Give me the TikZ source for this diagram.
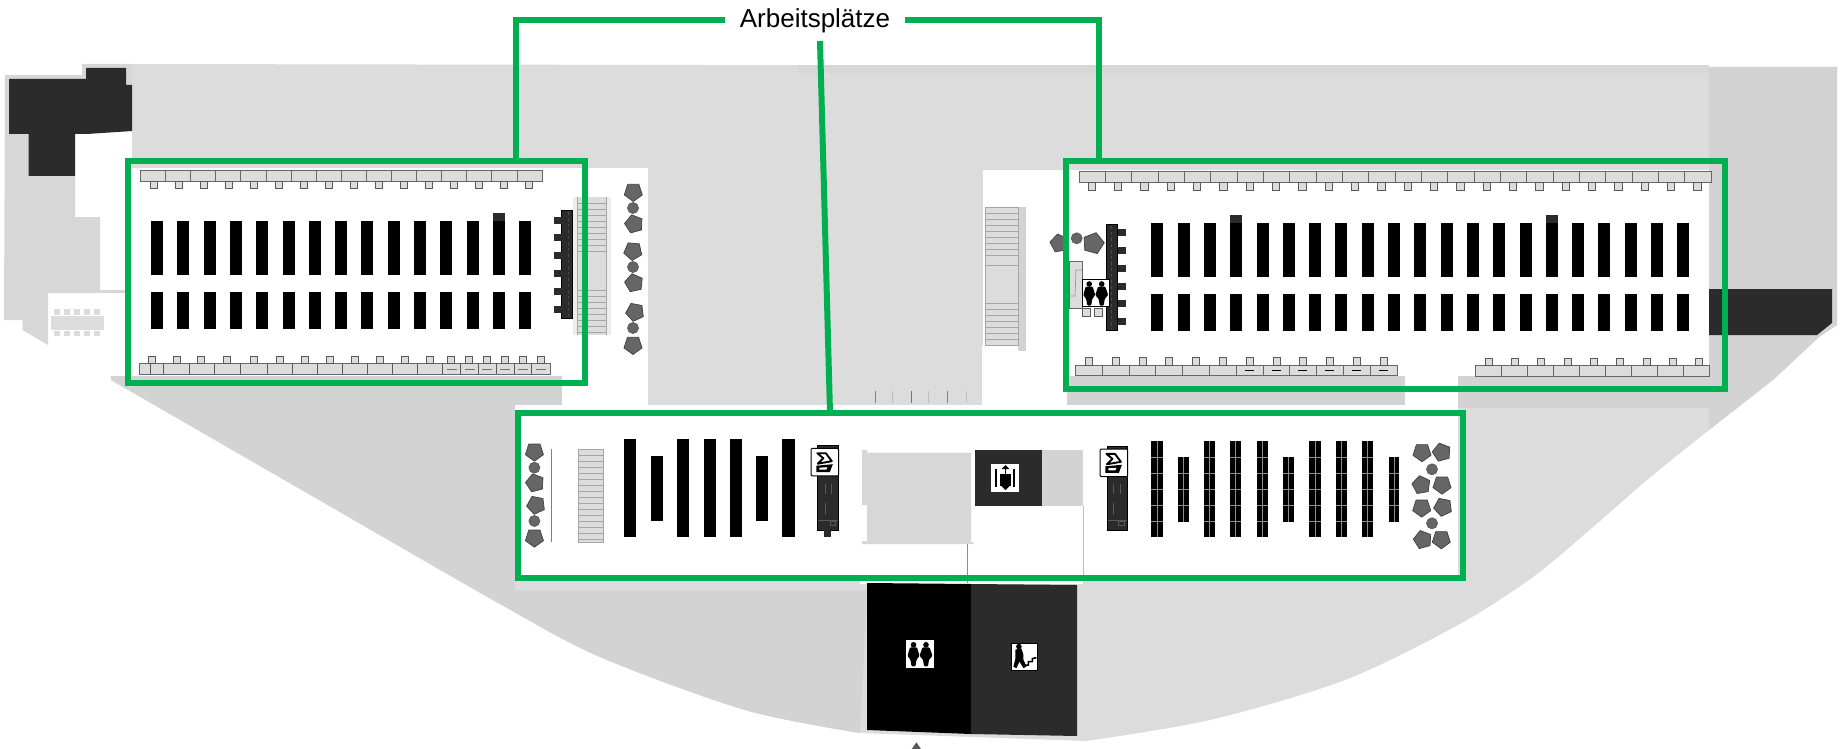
\documentclass[tikz,border=0pt]{standalone}
\usepackage{fontspec}
\setmainfont{Liberation Sans}
\usetikzlibrary{shapes.geometric}
\definecolor{zonegreen}{HTML}{00B050}
\definecolor{floorlight}{HTML}{DCDCDC}
\definecolor{floordark}{HTML}{D3D3D3}
\definecolor{roomdark}{HTML}{2B2B2B}
\definecolor{plantgray}{HTML}{666666}
\tikzset{
    persons/.pic={
        \foreach \d/\s in {-6.5/0,6/.5}{
            \fill[black] (\d,-9) circle (2.8);
            \fill[black, rounded corners=1pt] (\d-3.5,-6.5) -- (\d+3.5,-6.5) -- (\d+6+\s,2) -- (\d+3,6) -- (\d+2,12.5) -- (\d-2,12.5) -- (\d-3,6) -- (\d-6-\s,2) -- cycle;
        }
    },
    scanner/.pic={
        \draw[black, line width=1.9pt, line join=round] (-7.5,-9) -- (1,-9) -- (7,-1) -- (-7,1.5) -- (-1.5,-4) -- cycle;
        \fill[black] (-8.5,3.5) -- (8,2) -- (5,10) -- (-8.5,10) -- cycle;
        \fill[white] (-5.5,5.5) -- (2.5,5) -- (1.5,7.5) -- (-5.5,7.5) -- cycle;
    },
    lift/.pic={
        \draw[black, line width=2pt] (-9,-9) -- (-9,9) (9,-9) -- (9,9);
        \fill[black] (-5,-4) rectangle (6,8);
        \fill[black] (0,-12.5) -- (4,-8.5) -- (-4,-8.5) -- cycle (0,12.5) -- (4,8.5) -- (-4,8.5) -- cycle;
        \draw[black, line width=1.2pt] (0,-9) -- (0,-4) (0,8) -- (0,9);
    },
    exitman/.pic={
        \fill[black] (-5.5,-10) circle (2.8);
        \fill[black] (-9,-7) -- (-3,-8) -- (-1,-2) -- (-1,3) -- (2,10) -- (-1,11.5) -- (-5,5) -- (-8,11.5) -- (-11,10) -- (-9,2) -- cycle;
        \draw[black, line width=1.6pt] (-1,8.5) -- (4,8.5) -- (4,5) -- (8,5) -- (8,2) -- (12,1);
    },
}
\begin{document}
\begin{tikzpicture}[x=1pt, y=-1pt,
        zone/.style={draw=zonegreen, line width=6pt, inner sep=0pt, outer sep=0pt},
        link/.style={draw=zonegreen, line width=6pt},
        desk/.style={fill=floorlight, draw=black!60, line width=.7pt},
        chair/.style={fill=floorlight, draw=black!65, line width=.8pt},
        bigbar/.style={fill=black},
        shelf/.style={fill=roomdark, draw=black, line width=.5pt},
        plant/.style={regular polygon, regular polygon sides=5, fill=plantgray, draw=black!75, line width=.7pt, line join=round, minimum size=19pt, inner sep=0pt},
        pot/.style={circle, fill=plantgray, draw=black!65, line width=.7pt, minimum size=11pt, inner sep=0pt},
        sign/.style={rectangle, fill=white, draw=black, line width=1pt, inner sep=0pt},
        stripe/.style={draw=black!35, line width=.7pt},
    ]
    \useasboundingbox (0,0) rectangle (1845,749);

    % floor
    \fill[floorlight] (132,64) -- (1837,67) -- (1837,325) -- (1819,337) -- plot[smooth] coordinates {(1773,380) (1709,430) (1647,480) (1593,527) (1533,577) (1458,625) (1345,680) (1210,720) (1086,741)} -- (860,733) -- plot[smooth] coordinates {(860,733) (745,710) (600,657) (500,604) (300,489) (111,380)} -- (132,376) -- cycle;
    \fill[floordark!60!floorlight] (132,64) -- (82,64) -- (82,75) -- (5,75) -- (4,320) -- (22.5,320) -- (22.5,330) -- (48,345) -- (48,293) -- (125,293) -- (125,290) -- (100,290) -- (100,217) -- (75,217) -- (75,134) -- (132,131) -- cycle;
    \fill[floordark] (111,376) -- (562,376) -- (562,407) -- (515,407) -- (515,590) -- (867,590) -- (860,733) -- plot[smooth] coordinates {(860,733) (745,710) (600,657) (500,604) (300,489) (111,380)} -- cycle;
    \fill[floordark] (1709,67) -- (1837,67) -- (1837,325) -- (1819,337) -- (1773,380) -- (1709,430) -- cycle;
    \fill[floordark!60!floorlight] (798,65) rectangle (1709,73);
    \fill[floordark] (1067,376) rectangle (1405,408);
    \fill[floordark] (1458,376) rectangle (1709,408);

    % white rooms
    \fill[white] (132,168) rectangle (648,376);
    \fill[white] (562,168) rectangle (648,410);
    \fill[white] (515,405) rectangle (1458,581);
    \fill[white] (860,581) rectangle (1083,584);
    \fill[white] (648,405) rectangle (982,410);
    \fill[white] (983,170) rectangle (1709,376);
    \fill[white] (982,346) rectangle (1067,410);
    \fill[white] (1405,376) rectangle (1458,410);

    % dark rooms
    \fill[roomdark] (9,79) -- (86,79) -- (86,68) -- (126,68) -- (126,85) -- (132,85) -- (132,131) -- (87,134) -- (75,134) -- (75,176) -- (28.5,176) -- (28.5,134) -- (9,134) -- cycle;
    \fill[roomdark] (1709,289) -- (1832,289) -- (1832,323) -- (1817,335) -- (1709,335) -- cycle;
    \fill[black] (867,583) -- (971,584) -- (971,734) -- (867,730) -- cycle;
    \fill[roomdark] (971,584) -- (1077,585) -- (1077,736) -- (971,734) -- cycle;
    \fill[roomdark] (975,450) rectangle (1042,506);
    \fill[floordark] (1042,450) rectangle (1083,506);
    \fill[floordark!60!floorlight] (862,450) -- (867,450) -- (867,452.5) -- (971,452.5) -- (971,542) -- (973.5,542) -- (973.5,544) -- (862,544) -- (862,541) -- (867,541) -- (867,505) -- (862,505) -- cycle;
    \draw[black!45, line width=.7pt] (967,544) -- (967,583);
    \draw[black!25, line width=.7pt] (1083,506) -- (1083,581);

    % small table left
    \fill[floorlight] (51,316) rectangle (104,330);
    \foreach \x in {57,67,77,87,97} {
        \fill[floorlight] (\x-3,309) rectangle (\x+3,315);
        \fill[floorlight] (\x-3,331) rectangle (\x+3,336);
    }

    % stairs
    \fill[black!7] (573,197) rectangle (611,335);
    \fill[floorlight] (577,197) rectangle (606.5,335);
    \foreach \y in {203,209,...,254,290,296,...,334} \draw[stripe] (577,\y) -- (606.5,\y);
    \draw[stripe] (577,197) -- (577,335) (606.5,197) -- (606.5,335);
    \fill[floordark] (1018,207) rectangle (1026,351);
    \fill[floorlight] (985,207) rectangle (1018.5,345);
    \foreach \y in {207,213,...,260,303,309,...,345} \draw[stripe] (985,\y) -- (1018.5,\y);
    \draw[stripe] (985,265) rectangle (1018.5,303);
    \draw[stripe] (985,207) -- (985,345) (1018.5,207) -- (1018.5,345);
    \fill[floorlight] (578.5,449.5) rectangle (603.5,542.5);
    \foreach \y in {455,461,...,540} \draw[stripe] (578.5,\y) -- (603.5,\y);
    \draw[stripe] (578.5,449.5) rectangle (603.5,542.5);
    \draw[black!50, line width=.8pt] (551,449) -- (551,542);
    \foreach \x/\c in {875/50,892/25,911/55,928/25,947/50,966/25} \draw[black!\c, line width=.8pt] (\x,391) -- (\x,403);

    % left block
    \foreach \i in {0,...,15} {
        \draw[desk] (140.4+25.1*\i,170) rectangle ++(25.1,11.7);
        \draw[chair] (150+25*\i,181.7) rectangle ++(7,6.3);
    }
    \foreach \i in {0,...,14} {
        \fill[bigbar] (151+26.3*\i,220.7) rectangle ++(12,54.3);
        \fill[bigbar] (151+26.3*\i,291.7) rectangle ++(12,37);
    }
    \fill[roomdark] (493,213) rectangle ++(12,8);
    \fill[floorlight] (139.6,363.3) rectangle (550.8,374.3);
    \draw[black!60, line width=.7pt] (139.6,363.3) rectangle (550.8,374.3);
    \foreach \z in {380,414,480,541,607,677,740,803,866,930,993,1056,1120,1165,1210,1255,1300,1345} \draw[black!65, line width=.8pt] (\z/2.529,363.3) -- (\z/2.529,374.3);
    \foreach \z in {383,447,509,575,642,708,771,835,897,961,1023,1087,1141,1186,1232,1278,1323,1368} \draw[chair] (\z/2.529-3.5,356) rectangle ++(7,7.3);
    \foreach \z in {1142,1188,1232,1278,1323,1368} \draw[black!55, line width=1pt] (\z/2.529-5,369) -- ++(10,0);
    \draw[shelf] (561.5,210) rectangle (572,318);
    \draw[black!70, dashed, line width=.7pt] (568,212) -- (568,316);
    \foreach \y in {220,237.3,255.7,273.3,291.7,309} \fill[roomdark] (554,\y-3.5) rectangle (561.5,\y+3.5);

    % plants next to the left block
    \foreach \x/\y/\r [count=\n] in {633.3/192/180,634/224/15,633/251/175,634/283/12,635/312/25,633/345/180} \node[plant, rotate=\r] (leftplant\n) at (\x,\y) {};
    \foreach \y [count=\n] in {208,267,328} \node[pot] (leftpot\n) at (633,\y) {};

    % right block
    \foreach \i in {0,...,23} {
        \draw[desk] (1079+26.33*\i,171.7) rectangle ++(26.33,11);
        \draw[chair] (1088+26.33*\i,182.7) rectangle ++(7.5,7.5);
    }
    \foreach \i in {0,...,20} {
        \fill[bigbar] (1151.3+26.3*\i,222.7) rectangle ++(12,54.6);
        \fill[bigbar] (1151.3+26.3*\i,294) rectangle ++(12,36.7);
    }
    \fill[roomdark] (1230.2,215) rectangle ++(12,8);
    \fill[roomdark] (1545.8,215) rectangle ++(12,8);
    \foreach \i in {0,...,11} {
        \draw[desk] (1075.4+26.8*\i,365) rectangle ++(26.8,10.7);
        \draw[chair] (1085.4+26.8*\i,357.3) rectangle ++(7,7.7);
    }
    \foreach \i in {6,...,11} \draw[black, line width=1pt] (1084+26.8*\i,370.5) -- ++(9,0);
    \foreach \i in {0,...,8} {
        \draw[desk] (1475.8+25.9*\i,365.7) rectangle ++(25.9,11);
        \draw[chair] (1485.2+26.3*\i,358) rectangle ++(7,7.7);
    }
    \draw[shelf] (1106.7,224) rectangle (1117.7,330.7);
    \draw[black!70, dashed, line width=.7pt] (1111,226) -- (1111,329);
    \foreach \y in {232.7,250.3,268,286,303.7,321.7} \fill[roomdark] (1117.7,\y-3.5) rectangle (1125.7,\y+3.5);
    \draw[desk] (1069,261.7) rectangle (1082,308);
    \draw[black!40, line width=.7pt] (1069,296) -- (1075,296) -- (1076,270) -- (1082,270);
    \draw[chair] (1082.3,308) rectangle (1090,316.7);
    \draw[chair] (1094.3,308) rectangle (1102.3,316.7);
    \node[plant, rotate=10] (doorplant1) at (1059.3,243.3) {};
    \node[pot] (doorpot) at (1076.7,238.3) {};
    \node[plant, rotate=-15, minimum size=22pt] (doorplant2) at (1093.3,243.3) {};
    \node[sign, minimum width=27pt, minimum height=27pt] (wcupper) at (1095.7,293) {};
    \pic at (wcupper) {persons};

    % bottom block, left half
    \foreach \a/\b in {624.4/635.9,677/689,704/715.5,729.6/741.9,782.4/794.7} \fill[bigbar] (\a,439) rectangle (\b,536.7);
    \foreach \a/\b in {651/663,755.6/767.9} \fill[bigbar] (\a,455.7) rectangle (\b,520.7);
    \foreach \x/\y/\r [count=\n] in {534.4/451.7/180,535/483/15,536/505/25,534.4/537.7/180} \node[plant, rotate=\r] (lowplant\n) at (\x,\y) {};
    \foreach \y [count=\n] in {467.7,521} \node[pot] (lowpot\n) at (534.4,\y) {};
    \draw[shelf] (817.6,445) rectangle (838.3,530);
    \fill[roomdark] (824,530) rectangle (831,536.7);
    \draw[black!65, line width=.7pt] (825,484) -- (825,494) (831,484) -- (831,494) (825,503) -- (825,515) (818,520) -- (838,520) (830,521) rectangle (835,525);
    \node[sign, minimum width=27.5pt, minimum height=27.5pt, rounded corners=1pt] (scanleft) at (824.8,462.2) {};
    \pic at (scanleft) {scanner};

    % bottom block, right half
    \foreach \a/\b in {1151/1162.7,1204.3/1215.3,1230/1241,1256.7/1268,1309.3/1320.7,1335.7/1347,1361.7/1373} {
        \fill[bigbar] (\a,440.7) rectangle (\b,537.3);
        \draw[black!45, line width=.7pt] ({(\a+\b)/2},440.7) -- ({(\a+\b)/2},537.3);
        \foreach \y in {457,473,489,505,521} \draw[black!45, line width=.7pt] (\a,\y) -- (\b,\y);
    }
    \foreach \a/\b in {1178/1189,1283/1294.3,1388.7/1399.3} {
        \fill[bigbar] (\a,457) rectangle (\b,521.7);
        \draw[black!45, line width=.7pt] ({(\a+\b)/2},457) -- ({(\a+\b)/2},521.7);
        \foreach \y in {473,489,505} \draw[black!45, line width=.7pt] (\a,\y) -- (\b,\y);
    }
    \foreach \x/\y/\r [count=\n] in {1422/452.3/180,1441.7/452.3/15,1421.3/485/10,1442/484.7/180,1421.7/507.7/180,1443/507/25,1422.7/539.7/15,1441.3/539.3/180} \node[plant, rotate=\r] (rightplant\n) at (\x,\y) {};
    \foreach \y [count=\n] in {469.3,523.3} \node[pot] (rightpot\n) at (1432,\y) {};
    \draw[shelf] (1107.7,446) rectangle (1127.3,530.7);
    \draw[black!65, line width=.7pt] (1113.5,484) -- (1113.5,494) (1120.5,484) -- (1120.5,494) (1113.5,503) -- (1113.5,515) (1108,520) -- (1127,520) (1118,521) rectangle (1124,525);
    \node[sign, minimum width=27.5pt, minimum height=27.5pt, rounded corners=1pt] (scanright) at (1113.9,462.8) {};
    \pic at (scanright) {scanner};

    % signs in the dark rooms
    \node[sign, draw=white, minimum width=27pt, minimum height=27pt] (liftsign) at (1005.4,477.6) {};
    \pic at (liftsign) {lift};
    \node[sign, minimum width=26.5pt, minimum height=27.5pt, draw=white] (wclower) at (920,653.8) {};
    \pic at (wclower) {persons};
    \node[sign, minimum width=26.5pt, minimum height=27pt] (exitsign) at (1024.4,656.6) {};
    \pic at (exitsign) {exitman};
    \fill[black!65] (916.4,742.3) -- (921,749) -- (911.8,749) -- cycle;

    % work places
    \node[zone, minimum width=457pt, minimum height=222pt] (zoneleft) at (356.5,272) {};
    \node[zone, minimum width=659pt, minimum height=228pt] (zoneright) at (1395.5,275) {};
    \node[zone, minimum width=945.5pt, minimum height=165pt] (zonebottom) at (990.25,495.5) {};
    \node[inner sep=0pt, outer sep=0pt, minimum width=180pt, minimum height=42pt, text height=20pt, text depth=4pt, font=\fontsize{26}{30}\selectfont] (worklabel) at (815,20) {Arbeitsplätze};
    \coordinate (dropleft) at (516,161);
    \coordinate (dropright) at (1099,161);
    \coordinate (dropbottom) at (830,413);
    \draw[link] (worklabel.west) -| (dropleft);
    \draw[link] (worklabel.east) -| (dropright);
    \draw[link] ([xshift=5pt]worklabel.south) -- (dropbottom);
\end{tikzpicture}
\end{document}
